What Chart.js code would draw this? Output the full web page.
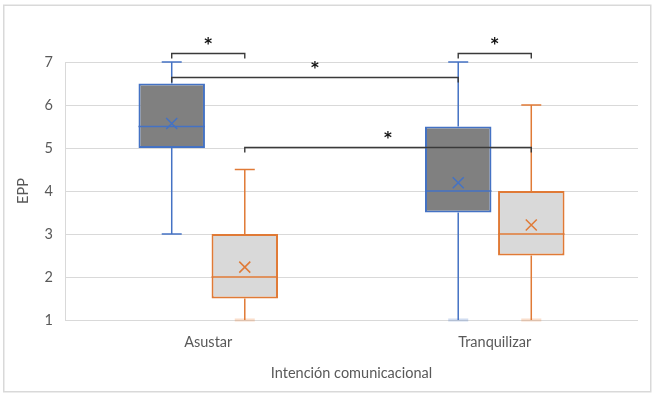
<!DOCTYPE html>
<html><head><meta charset="utf-8">
<script src="https://cdn.jsdelivr.net/npm/chart.js@4/dist/chart.umd.min.js"></script>
<style>html,body{margin:0;padding:0;background:#fff}</style>
</head><body>
<canvas id="c" width="656" height="399"></canvas>
<script>
// ---- data ----
const categories = ['Asustar', 'Tranquilizar'];
const seriesNames = ['Serie 1', 'Serie 2'];
const yTicks = [1, 2, 3, 4, 5, 6, 7];

const s1Min = [3, 1];
const s1Q1 = [5, 3.5];
const s1Median = [5.5, 4];
const s1Q3 = [6.5, 5.5];
const s1Max = [7, 7];
const s1Mean = [5.57, 4.19];

const s2Min = [1, 1];
const s2Q1 = [1.5, 2.5];
const s2Median = [2, 3];
const s2Q3 = [3, 4];
const s2Max = [4.5, 6];
const s2Mean = [2.23, 3.21];

// significance brackets: [series, category] endpoints, level (EPP units), label
const bracketFrom = [[0, 0], [0, 0], [1, 0], [0, 1]];
const bracketTo = [[1, 0], [0, 1], [1, 1], [1, 1]];
const bracketLevel = [7.21, 6.65, 5.02, 7.21];
const bracketLabel = ['*', '*', '*', '*'];

// ---- styles ----
const TXT = '#595959';
const FONT = 'Lato';
const colors = [
  { edge: '#4472C4', fill: '#808080', capLight: 'rgba(68,114,196,0.25)' },
  { edge: '#E07A36', fill: '#D9D9D9', capLight: 'rgba(237,125,49,0.25)' }
];
const stats = [
  { min: s1Min, q1: s1Q1, med: s1Median, q3: s1Q3, max: s1Max, mean: s1Mean },
  { min: s2Min, q1: s2Q1, med: s2Median, q3: s2Q3, max: s2Max, mean: s2Mean }
];

const boxPlugin = {
  id: 'boxParts',
  beforeDraw(chart) {
    const c = chart.ctx;
    c.save();
    c.fillStyle = '#fff';
    c.fillRect(0, 0, chart.width, chart.height);
    c.strokeStyle = '#D9D9D9';
    c.lineWidth = 1.5;
    c.strokeRect(3.75, 5.25, 647, 386.5);
    c.restore();
  },
  afterDatasetsDraw(chart) {
    const c = chart.ctx;
    const y = chart.scales.y;
    c.save();
    stats.forEach((st, d) => {
      const meta = chart.getDatasetMeta(d);
      meta.data.forEach((bar, i) => {
        const x = bar.x;
        const col = colors[d];
        const pMin = y.getPixelForValue(st.min[i]);
        const pMax = y.getPixelForValue(st.max[i]);
        const pQ1 = y.getPixelForValue(st.q1[i]);
        const pQ3 = y.getPixelForValue(st.q3[i]);
        const pMed = y.getPixelForValue(st.med[i]);
        const pMean = y.getPixelForValue(st.mean[i]);
        // whiskers
        c.strokeStyle = col.edge;
        c.lineWidth = 1.5;
        c.beginPath();
        c.moveTo(x, pQ3); c.lineTo(x, pMax);
        c.moveTo(x, pQ1); c.lineTo(x, pMin);
        c.stroke();
        // caps
        const capW = 10;
        [[st.max[i], pMax], [st.min[i], pMin]].forEach(([v, p]) => {
          c.strokeStyle = (v <= y.min) ? col.capLight : col.edge;
          c.lineWidth = (v <= y.min) ? 3 : 1.5;
          c.beginPath();
          c.moveTo(x - capW, p); c.lineTo(x + capW, p);
          c.stroke();
        });
        // median
        const hw = bar.width / 2;
        c.strokeStyle = col.edge;
        c.lineWidth = 1.5;
        c.beginPath();
        c.moveTo(x - hw, pMed); c.lineTo(x + hw, pMed);
        c.stroke();
        // mean x
        const m = 5.5;
        c.beginPath();
        c.moveTo(x - m, pMean - m); c.lineTo(x + m, pMean + m);
        c.moveTo(x - m, pMean + m); c.lineTo(x + m, pMean - m);
        c.stroke();
      });
    });
    // brackets
    c.strokeStyle = '#3A3A3A';
    c.lineWidth = 1.4;
    c.fillStyle = '#111';
    c.font = 'bold 15px "DejaVu Sans"';
    c.textAlign = 'center';
    c.textBaseline = 'middle';
    bracketFrom.forEach((f, k) => {
      const t = bracketTo[k];
      const x1 = chart.getDatasetMeta(f[0]).data[f[1]].x;
      const x2 = chart.getDatasetMeta(t[0]).data[t[1]].x;
      const py = Math.round(y.getPixelForValue(bracketLevel[k])) + 0.5;
      c.beginPath();
      c.moveTo(x1, py + 5); c.lineTo(x1, py); c.lineTo(x2, py); c.lineTo(x2, py + 5);
      c.stroke();
      c.fillText(bracketLabel[k], (x1 + x2) / 2, py - 8);
    });
    c.restore();
  }
};

new Chart(document.getElementById('c'), {
  type: 'bar',
  data: {
    labels: categories,
    datasets: stats.map((st, d) => ({
      label: seriesNames[d],
      data: categories.map((_, i) => [st.q1[i], st.q3[i]]),
      backgroundColor: colors[d].fill,
      borderColor: colors[d].edge,
      borderWidth: 2,
      borderSkipped: false,
      categoryPercentage: 0.51,
      barPercentage: 0.91
    }))
  },
  options: {
    responsive: false,
    animation: false,
    layout: { padding: { left: 0, top: 62, right: 18, bottom: 0 } },
    plugins: { legend: { display: false }, tooltip: { enabled: false } },
    scales: {
      x: {
        grid: { display: false, drawTicks: false },
        border: { display: false },
        ticks: { color: TXT, font: { family: FONT, size: 14.5 }, padding: 14 },
        title: { display: true, text: 'Intención comunicacional', color: TXT,
                 font: { family: FONT, size: 14.5 }, padding: { top: 0, bottom: 17 } },
        afterFit(s) { s.height = 79; }
      },
      y: {
        min: 1, max: 7,
        afterBuildTicks(s) { s.ticks = yTicks.map(v => ({ value: v })); },
        ticks: { color: TXT, font: { family: FONT, size: 14.5 }, padding: 12 },
        grid: { color: '#D9D9D9', drawTicks: false, lineWidth: 1 },
        border: { display: true, color: '#D9D9D9', width: 1 },
        title: { display: true, text: 'EPP', color: TXT,
                 font: { family: FONT, size: 14.5 }, padding: { top: 15, bottom: 0 } },
        afterFit(s) { s.width = 65; }
      }
    }
  },
  plugins: [boxPlugin]
});
</script>
</body></html>
